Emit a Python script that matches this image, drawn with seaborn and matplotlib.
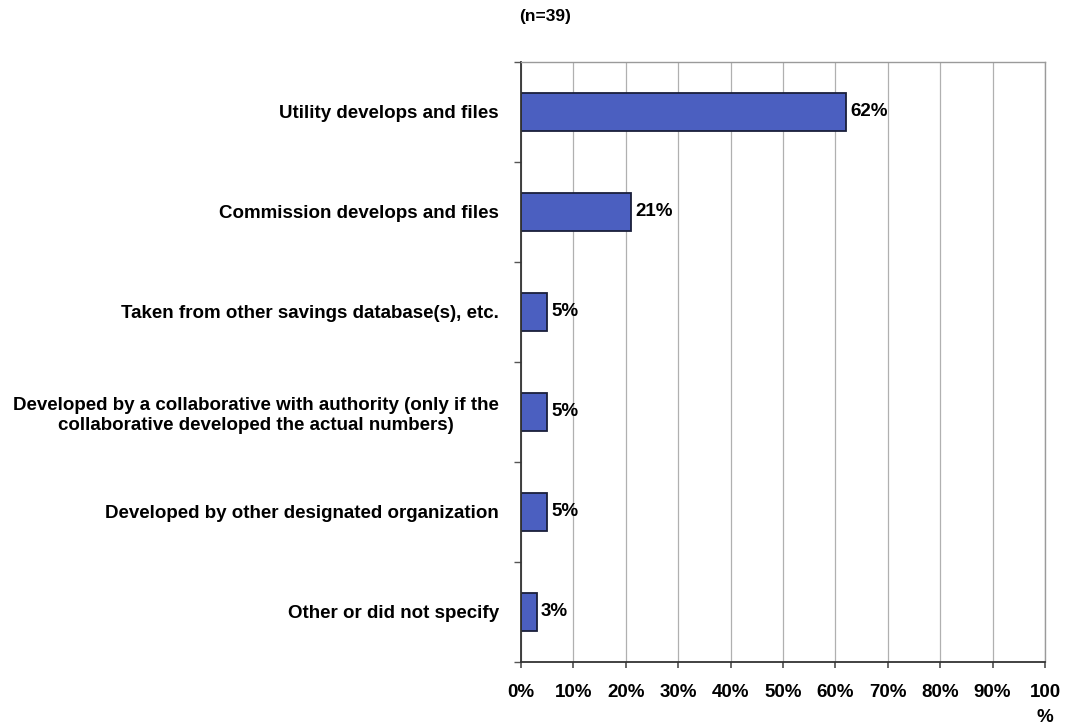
import matplotlib
matplotlib.use("Agg")
import matplotlib.pyplot as plt
import seaborn as sns
import pandas as pd
import numpy as np

categories = [
    "Utility develops and files",
    "Commission develops and files",
    "Taken from other savings database(s), etc.",
    "Developed by a collaborative with authority (only if the\ncollaborative developed the actual numbers)",
    "Developed by other designated organization",
    "Other or did not specify",
]
values = [62, 21, 5, 5, 5, 3]
tick_labels = ["0%", "10%", "20%", "30%", "40%", "50%", "60%", "70%", "80%", "90%", "100\n%"]

sns.set_theme(style="white")
plt.rcParams['font.family'] = ['Liberation Sans', 'DejaVu Sans']
plt.rcParams['font.weight'] = 'bold'
plt.rcParams['text.color'] = 'black'

FS = 13.5

df = pd.DataFrame({"cat": categories, "val": values})

fig = plt.figure(figsize=(10.65, 7.25), dpi=100)
ax = fig.add_axes([521/1065, 1-662/725, (1045-521)/1065, (662-62)/725])

sns.barplot(data=df, y="cat", x="val", orient="h", color="#4b5fc0",
            edgecolor="#1a1f3a", linewidth=1.3, width=0.38, saturation=1, ax=ax)

ax.set_xlim(0, 100)
ax.set_ylim(5.5, -0.5)
ax.set_xticks(np.arange(0, 101, 10))
ax.set_xticklabels(tick_labels, fontsize=FS, fontweight='bold', linespacing=1.6, color='black')
ax.set_yticks(range(len(categories)))
ax.set_yticklabels(categories, fontsize=FS, fontweight='bold', linespacing=1.25, color='black')
for lab in ax.get_yticklabels():
    lab.set_multialignment('center')
ax.tick_params(axis='y', length=0, pad=16)
ax.tick_params(axis='x', length=4, pad=12, color="#555555", direction='out', bottom=True)
ax.set_yticks(np.arange(-0.5, 6.0, 1.0), minor=True)
ax.tick_params(axis='y', which='minor', length=5, color="#555555", left=True)
ax.set_xlabel("")
ax.set_ylabel("")
ax.grid(axis='x', color="#b0b0b0", linewidth=0.9)
ax.set_axisbelow(True)
for s in ["top", "right"]:
    ax.spines[s].set_color("#9a9a9a")
    ax.spines[s].set_linewidth(1.0)
for s in ["left", "bottom"]:
    ax.spines[s].set_color("#333333")
    ax.spines[s].set_linewidth(1.3)

for i, v in enumerate(values):
    ax.text(v + 0.8, i, f"{v}%", va='center', ha='left', fontsize=FS, fontweight='bold', color="black")

fig.text(545/1065, 1-16/725, "(n=39)", ha='center', va='center', fontsize=FS - 1, fontweight='bold', color='black')

fig.savefig("out.png", dpi=100, facecolor="white")
